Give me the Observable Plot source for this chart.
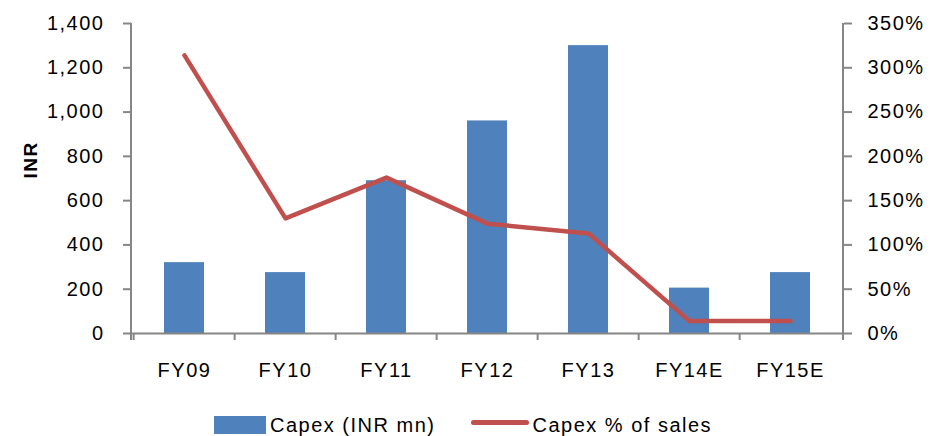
<!DOCTYPE html>
<html>
<head>
<meta charset="utf-8">
<script src="https://cdn.jsdelivr.net/npm/d3@7"></script>
<script src="https://cdn.jsdelivr.net/npm/@observablehq/plot@0.6"></script>
<style>
  body { margin: 0; background: #fff; }
  #wrap { position: relative; width: 930px; height: 436px; overflow: hidden; font-family: "Liberation Sans", Arial, sans-serif; }
  #wrap svg text { letter-spacing: 1.5px; }
  .legend { position: absolute; top: 415px; left: 214px; display: flex; align-items: center; font-size: 20px; line-height: 20px; letter-spacing: 1.5px; color: #000; }
  .sw-bar { width: 52px; height: 18px; background: #4F81BD; margin-right: 4px; }
  .sw-line { width: 58px; height: 5px; background: #C0504D; border-radius: 3px; margin-left: 36px; margin-right: 3px; margin-top: -5px; }
</style>
</head>
<body>
<div id="wrap"></div>
<script>
const categories = ["FY09", "FY10", "FY11", "FY12", "FY13", "FY14E", "FY15E"];
const capex = [320, 275, 690, 960, 1300, 205, 275];
const capexPct = [314, 130, 176, 124, 113, 14, 14];
const leftTicks = [0, 200, 400, 600, 800, 1000, 1200, 1400];
const rightTicks = [0, 50, 100, 150, 200, 250, 300, 350];
const seriesNames = ["Capex (INR mn)", "Capex % of sales"];
const yTitle = "INR";

const data = categories.map((c, i) => ({cat: c, capex: capex[i], pct: capexPct[i]}));
const ratio = d3.max(leftTicks) / d3.max(rightTicks);

const W = 930, H = 410;
const mL = 131, mR = 87, mT = 23, mB = 77;
const step = (W - mL - mR) / categories.length;
const gray = "#868686";

// vertical axis lines on the frame's left and right edges
function axisLines(index, scales, values, dimensions) {
  const {width, height, marginLeft, marginRight, marginTop, marginBottom} = dimensions;
  const g = d3.create("svg:g").attr("stroke", gray).attr("stroke-width", 2);
  const y1 = marginTop, y2 = height - marginBottom;
  g.append("line").attr("x1", marginLeft).attr("x2", marginLeft).attr("y1", y1).attr("y2", y2 + 7);
  g.append("line").attr("x1", width - marginRight).attr("x2", width - marginRight).attr("y1", y1).attr("y2", y2 + 7);
  return g.node();
}

const chart = Plot.plot({
  width: W, height: H,
  marginLeft: mL, marginRight: mR, marginTop: mT, marginBottom: mB,
  style: {fontFamily: '"Liberation Sans", Arial, sans-serif', fontSize: "20px", color: "#000", background: "#fff"},
  x: {domain: categories, paddingInner: 0.607, paddingOuter: 0.3035},
  y: {domain: [0, d3.max(leftTicks)]},
  marks: [
    Plot.barY(data, {x: "cat", y: "capex", fill: "#4F81BD"}),
    Plot.axisY(leftTicks, {anchor: "left", tickSize: 8, tickPadding: 19, tickFormat: d3.format(","), stroke: gray, strokeWidth: 2, strokeOpacity: 1, label: null, fill: "#000"}),
    Plot.axisY(rightTicks.map(v => v * ratio), {anchor: "right", tickSize: 8, tickPadding: 16, tickFormat: d => (d / ratio) + "%", stroke: gray, strokeWidth: 2, strokeOpacity: 1, label: null, fill: "#000"}),
    Plot.ruleY([0], {stroke: gray, strokeWidth: 2}),
    axisLines,
    Plot.axisX(categories, {tickSize: 7, tickFormat: () => "", dx: -step / 2, stroke: gray, strokeWidth: 2, strokeOpacity: 1, label: null}),
    Plot.axisX(categories, {tickSize: 0, tickPadding: 29, label: null, fill: "#000"}),
    Plot.lineY(data, {x: "cat", y: d => d.pct * ratio, stroke: "#C0504D", strokeWidth: 4.5, strokeLinecap: "round"}),
    Plot.text([yTitle], {frameAnchor: "left", dx: -101, rotate: -90, fontWeight: "bold", fontSize: 19, fill: "#000"})
  ]
});

const wrap = document.getElementById("wrap");
wrap.appendChild(chart);
const legend = document.createElement("div");
legend.className = "legend";
legend.innerHTML = `<div class="sw-bar"></div><span>${seriesNames[0]}</span><div class="sw-line"></div><span>${seriesNames[1]}</span>`;
wrap.appendChild(legend);
</script>
</body>
</html>
